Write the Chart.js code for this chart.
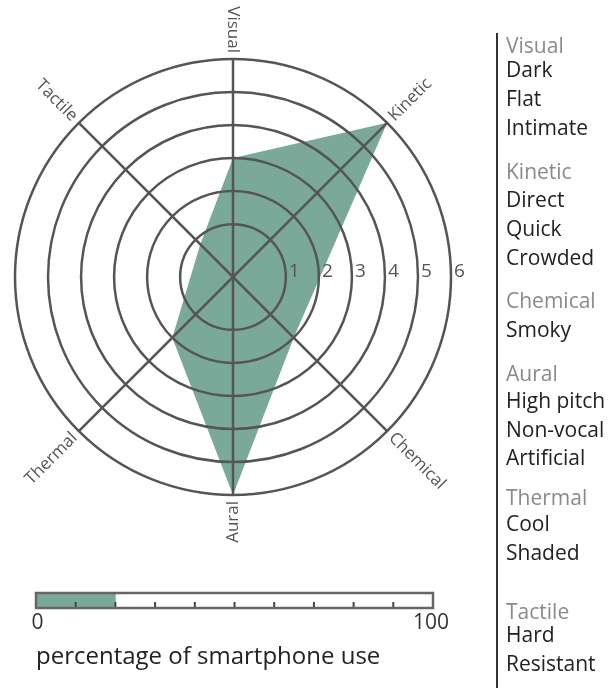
<!DOCTYPE html>
<html><head><meta charset="utf-8">
<script src="https://cdn.jsdelivr.net/npm/chart.js@4"></script>
<style>
html,body{margin:0;padding:0;background:#fff;}
body{width:613px;height:690px;position:relative;overflow:hidden;font-family:"Open Sans",sans-serif;}
#radar{position:absolute;left:0;top:0;}
#bar{position:absolute;left:0;top:570px;}
.lg{position:absolute;left:506px;font-size:21px;line-height:21px;white-space:nowrap;color:#222;}
.lg.h{color:#8a8a8a;}
#vline{position:absolute;left:496px;top:33px;width:2px;height:655px;background:#333;}
#caption{position:absolute;left:36px;top:643px;font-size:24px;line-height:24px;color:#222;white-space:nowrap;}
</style></head><body>
<canvas id="radar" width="613" height="690"></canvas>
<canvas id="bar" width="470" height="70"></canvas>
<div id="vline"></div>
<div id="legend"></div>
<div id="caption">percentage of smartphone use</div>
<script>
// ---- data ----
const senseLabels = ['Visual', 'Kinetic', '', 'Chemical', 'Aural', 'Thermal', '', 'Tactile'];
const senseValues = [3, 6, null, 2, 6, 2, null, 0.8];
const ringTicks = [1, 2, 3, 4, 5, 6];
const scaleMin = -0.6, scaleMax = 6;
const usePercent = [20];
const percentTicks = [0, 100];
const percentMarks = [10, 20, 30, 40, 50, 60, 70, 80, 90];
const legendHeaders = ['Visual', 'Kinetic', 'Chemical', 'Aural', 'Thermal', 'Tactile'];
const legendItems = [['Dark', 'Flat', 'Intimate'], ['Direct', 'Quick', 'Crowded'], ['Smoky'],
  ['High pitch', 'Non-vocal', 'Artificial'], ['Cool', 'Shaded'], ['Hard', 'Resistant']];

// ---- layout (centre y positions of legend lines) ----
const legendHeaderY = [46, 172, 301, 374, 498, 612];
const legendItemY = [[70, 99, 128], [200, 229, 258], [330], [401, 430, 458], [524, 553], [635, 664]];

const GRID = '#555555';
const FILL = '#7aa99a';

// legend
const lg = document.getElementById('legend');
function addLine(text, y, head) {
  const d = document.createElement('div');
  d.className = 'lg' + (head ? ' h' : '');
  d.textContent = text;
  d.style.top = (y - 11) + 'px';
  lg.appendChild(d);
}
legendHeaders.forEach((h, g) => {
  addLine(h, legendHeaderY[g], true);
  legendItems[g].forEach((t, k) => addLine(t, legendItemY[g][k], false));
});

const radarLabels = {
  id: 'radarLabels',
  afterDraw(chart) {
    const s = chart.scales.r;
    const ctx = chart.ctx;
    ctx.save();
    ctx.fillStyle = '#555';
    ctx.font = '19px "Open Sans"';
    ctx.textAlign = 'left';
    ctx.textBaseline = 'middle';
    ringTicks.forEach(v => {
      const r = s.getDistanceFromCenterForValue(v);
      ctx.fillText(String(v), s.xCenter + r + 3, s.yCenter - 5);
    });
    ctx.font = '17px "Open Sans"';
    const R = s.drawingArea;
    senseLabels.forEach((lab, i) => {
      if (!lab) return;
      const p = s.getPointPosition(i, R + 6);
      let deg = s.getIndexAngle(i) * 180 / Math.PI;
      deg = ((deg % 360) + 360) % 360;
      ctx.save();
      ctx.translate(p.x, p.y);
      if (deg > 0.01 && deg < 179.99) {
        ctx.rotate((deg - 90) * Math.PI / 180);
        ctx.textAlign = 'left';
      } else {
        if (deg < 0.01) deg = 360;
        ctx.rotate((deg - 270) * Math.PI / 180);
        ctx.textAlign = 'right';
      }
      ctx.textBaseline = 'middle';
      ctx.fillText(lab, 0, 0);
      ctx.restore();
    });
    ctx.restore();
  }
};

new Chart(document.getElementById('radar'), {
  type: 'radar',
  data: {
    labels: senseLabels,
    datasets: [{
      data: senseValues,
      backgroundColor: FILL,
      borderWidth: 0,
      borderColor: 'rgba(0,0,0,0)',
      pointRadius: 0,
      pointHoverRadius: 0,
      fill: 'start',
      spanGaps: true
    }]
  },
  options: {
    responsive: false,
    animation: false,
    devicePixelRatio: 1,
    layout: { padding: { left: 15, top: 59, right: 162, bottom: 195 } },
    plugins: { legend: { display: false }, tooltip: { enabled: false } },
    scales: {
      r: {
        min: scaleMin,
        max: scaleMax,
        startAngle: 0,
        afterBuildTicks: (sc) => { sc.ticks = [scaleMin].concat(ringTicks).map(v => ({ value: v })); },
        grid: {
          circular: true,
          color: (c) => (c.tick && c.tick.value > scaleMin) ? GRID : 'rgba(0,0,0,0)',
          lineWidth: 2.5,
          z: 1
        },
        angleLines: {
          display: true,
          color: (c) => senseLabels[c.index] ? GRID : 'rgba(0,0,0,0)',
          lineWidth: 2.5
        },
        ticks: { display: false },
        pointLabels: { display: false }
      }
    }
  },
  plugins: [radarLabels]
});

const barFrame = {
  id: 'barFrame',
  afterDatasetsDraw(chart) {
    const ctx = chart.ctx;
    const a = chart.chartArea;
    const xs = chart.scales.x;
    ctx.save();
    ctx.strokeStyle = '#444';
    ctx.lineWidth = 2;
    percentMarks.forEach(v => {
      const x = xs.getPixelForValue(v);
      ctx.beginPath();
      ctx.moveTo(x, a.bottom);
      ctx.lineTo(x, a.bottom - 6);
      ctx.stroke();
    });
    ctx.strokeStyle = '#666';
    ctx.lineWidth = 2.5;
    ctx.strokeRect(a.left, a.top, a.right - a.left, a.bottom - a.top);
    ctx.fillStyle = '#333';
    ctx.font = '21px "Open Sans"';
    ctx.textAlign = 'center';
    ctx.textBaseline = 'middle';
    percentTicks.forEach(v => ctx.fillText(String(v), xs.getPixelForValue(v) + (v === 0 ? 1.5 : -2), a.bottom + 15));
    ctx.restore();
  }
};

new Chart(document.getElementById('bar'), {
  type: 'bar',
  data: {
    labels: ['use'],
    datasets: [{ data: usePercent, backgroundColor: FILL, borderWidth: 0, barPercentage: 1, categoryPercentage: 1 }]
  },
  options: {
    indexAxis: 'y',
    responsive: false,
    animation: false,
    devicePixelRatio: 1,
    layout: { padding: { left: 36, right: 37, top: 23, bottom: 32 } },
    plugins: { legend: { display: false }, tooltip: { enabled: false } },
    scales: { x: { display: false, min: 0, max: 100 }, y: { display: false } }
  },
  plugins: [barFrame]
});
</script>
</body></html>
